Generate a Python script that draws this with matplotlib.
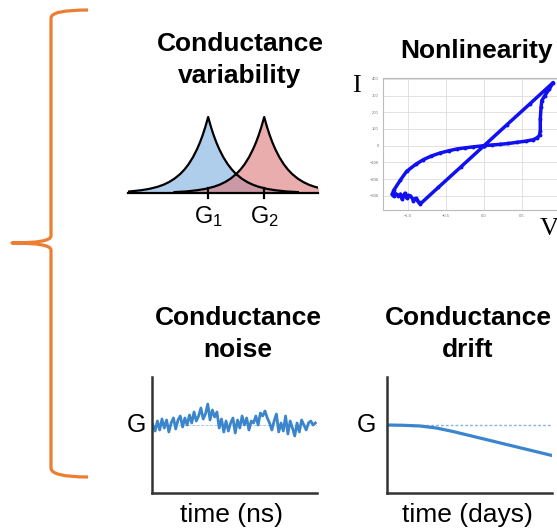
import numpy as np
import matplotlib
matplotlib.use('Agg')
import matplotlib.pyplot as plt
from matplotlib.path import Path
from matplotlib.patches import PathPatch

plt.rcParams['font.family'] = ['Liberation Sans', 'DejaVu Sans']
plt.rcParams['mathtext.default'] = 'regular'

# Distribucion de conductancia (perfil de medio pico, simetrico)
perfil_offset = [0, 0.05, 0.1, 0.15, 0.2, 0.27, 0.35, 0.42, 0.5, 0.6, 0.7,
                 0.8, 0.9, 1.05, 1.2, 1.4, 1.6]
perfil_altura = [1.0, 0.87, 0.757, 0.659, 0.574, 0.472, 0.378, 0.311, 0.249,
                 0.189, 0.143, 0.108, 0.082, 0.054, 0.036, 0.020, 0.012]
centros_g = [1.0, 2.0]
etiquetas_g = ['G$_1$', 'G$_2$']

# Curva I-V (no linealidad), en orden de barrido
iv_v = [0.0, 0.1, 0.21, 0.32, 0.43, 0.55, 0.65, 0.70, 0.73, 0.74, 0.74, 0.75,
        0.76, 0.80, 0.86, 0.91,
        0.6, 0.3, 0.0, -0.3, -0.6, -0.84,
        -0.86, -0.88, -0.90, -0.93, -0.94, -0.97, -1.0, -1.02, -1.04, -1.06,
        -1.08, -1.10, -1.13, -1.16, -1.19, -1.21, -1.19,
        -1.1, -1.02, -0.9, -0.8, -0.7, -0.58, -0.46, -0.36, -0.25, -0.14, 0.0]
iv_i = [0, 4, 8, 13, 20, 27, 36, 48, 62, 90, 160, 230,
        270, 300, 340, 378,
        249, 125, 0, -125, -249, -349,
        -340, -325, -315, -330, -318, -300, -298, -312, -285, -300,
        -318, -290, -300, -288, -302, -292, -268,
        -205, -154, -112, -84, -63, -44, -30, -20, -13, -7, 0]
iv_xticks = [-1.0, -0.5, 0.0, 0.5]
iv_yticks = [-300, -200, -100, 0, 100, 200, 300, 400]

# Ruido de conductancia (desviacion respecto a G)
ruido = [0, -6, 4, -5, 6, -3, 5, -7, 2, 7, -4, 5, 9, -2, 7, 0,
         10, 2, 13, 4, 9, 17, 6, 11, 21, 5, 15, 8, 13, -3, 6,
         -7, 4, -6, 2, 7, -8, 5, -3, 9, 0, 7, -5, 4, 2, 9, 0,
         12, 9, 14, 7, 2, -5, 4,
         11, -7, 2, -6, 9, -9, 4, -3, -11, 2, -7, 5, 0, -5, 2, 4, 0, 2]

# Deriva de conductancia
deriva_t = [0, 0.1, 0.2, 0.3, 0.4, 0.5, 0.6, 0.7, 0.8, 0.9, 1.0]
deriva_g = [0, -0.3, -1, -3, -6.5, -10.5, -14.5, -18.5, -22.5, -26.5, -30.5]

W, H = 557, 530
fig = plt.figure(figsize=(W / 100, H / 100), dpi=100)


def rect(l, t, r, b):
    return [l / W, 1 - b / H, (r - l) / W, (b - t) / H]


def texto(x, y, s, **kw):
    fig.text(x / W, 1 - y / H, s, ha='center', va='center', **kw)


# Llave naranja
fondo = fig.add_axes([0, 0, 1, 1])
fondo.set_xlim(0, W)
fondo.set_ylim(H, 0)
fondo.axis('off')
verts = [(88, 10), (51, 10), (51, 18), (51, 236), (51, 243), (12, 243),
         (51, 243), (51, 250), (51, 468), (51, 477), (88, 477)]
codes = [Path.MOVETO, Path.CURVE3, Path.CURVE3, Path.LINETO, Path.CURVE3, Path.CURVE3,
         Path.CURVE3, Path.CURVE3, Path.LINETO, Path.CURVE3, Path.CURVE3]
fondo.add_patch(PathPatch(Path(verts, codes), fill=False, ec='#ed7d31', lw=2.3,
                          capstyle='butt', joinstyle='round'))

# Titulos
tit = dict(fontsize=19, fontweight='bold')
texto(240, 44, 'Conductance', **tit)
texto(240, 76, 'variability', **tit)
texto(476, 51, 'Nonlinearity', **tit)
texto(238, 318, 'Conductance', **tit)
texto(238, 350, 'noise', **tit)
texto(468, 318, 'Conductance', **tit)
texto(468, 350, 'drift', **tit)

# Panel de variabilidad
ax1 = fig.add_axes(rect(128, 100, 318, 193))
ax1.set_xlim(-0.43, 2.96)
ax1.set_ylim(0, 1.224)
ax1.axis('off')
off = np.array(perfil_offset)
alt = np.array(perfil_altura)
xs = np.concatenate([-off[::-1], off[1:]])
ys = np.concatenate([alt[::-1], alt[1:]])
for c, col in zip(centros_g, ['#7aaee0', '#dd7777']):
    ax1.fill_between(c + xs, 0, ys, color=col, alpha=0.6, lw=0)
for c in centros_g:
    ax1.plot(c + xs, ys, color='black', lw=1.6)
ax1.plot([-0.43, 2.96], [0, 0], color='black', lw=1.6, clip_on=False)
for c, lab in zip(centros_g, etiquetas_g):
    ax1.plot([c, c], [-0.07, 0.07], color='black', lw=1.6, clip_on=False)
    ax1.text(c, -0.31, lab, ha='center', va='center', fontsize=17, clip_on=False)

# Panel I-V
ax2 = fig.add_axes(rect(383, 78, 557, 210))
ax2.plot(iv_v, iv_i, color='#1010f0', lw=2.5, marker='o', ms=1.8)
ax2.set_xlim(-1.33, 0.96)
ax2.set_ylim(-385, 405)
ax2.set_xticks(iv_xticks)
ax2.set_xticklabels(['−1.0', '−0.5', '0.0', '0.5'])
ax2.set_yticks(iv_yticks)
ax2.set_yticklabels(['−300', '−200', '−100', '0', '100', '200', '300', '400'])
ax2.tick_params(labelsize=3, colors='#777777', length=0, pad=3)
ax2.grid(color='#dddddd', lw=0.6)
ax2.set_axisbelow(True)
for s in ['top', 'left', 'bottom']:
    ax2.spines[s].set_color('#bbbbbb')
ax2.spines['right'].set_visible(False)
texto(356, 86, 'I', fontsize=19, family='Liberation Serif')
texto(549, 229, 'V', fontsize=19, family='Liberation Serif')

linea = '#3a85cc'
eje = '#333333'

# Panel de ruido
ax3 = fig.add_axes(rect(152, 377, 317, 493))
t = np.linspace(0.005, 0.99, len(ruido))
ax3.axhline(0, color=linea, lw=0.6, ls='--', alpha=0.5)
ax3.plot(t, ruido, color=linea, lw=2)
ax3.set_xlim(0, 1)
ax3.set_ylim(-68, 48)

# Panel de deriva
ax4 = fig.add_axes(rect(387, 377, 552, 493))
ax4.axhline(0, color=linea, lw=1, ls=(0, (2, 1.5)), alpha=0.6)
ax4.plot(deriva_t, deriva_g, color=linea, lw=2.3)
ax4.set_xlim(0, 1)
ax4.set_ylim(-68, 48)

for ax in [ax3, ax4]:
    ax.set_xticks([])
    ax.set_yticks([])
    ax.spines['top'].set_visible(False)
    ax.spines['right'].set_visible(False)
    for s in ['left', 'bottom']:
        ax.spines[s].set_color(eje)
        ax.spines[s].set_linewidth(1.8)

texto(136, 425, 'G', fontsize=18)
texto(366, 425, 'G', fontsize=18)
texto(232, 515, 'time (ns)', fontsize=19)
texto(467, 515, 'time (days)', fontsize=19)

fig.savefig('out.png', dpi=100, facecolor='white')
